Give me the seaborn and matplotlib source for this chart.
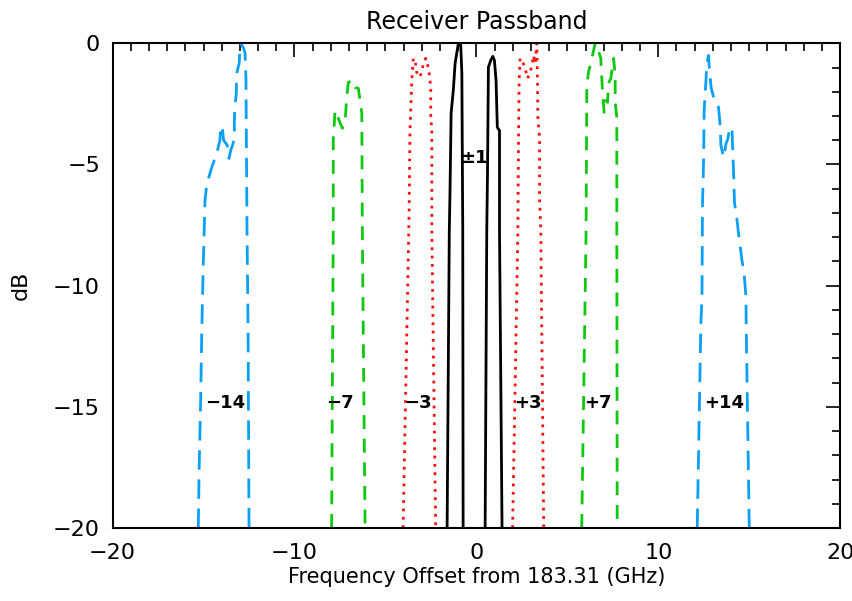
import numpy as np
import pandas as pd
import seaborn as sns
import matplotlib.pyplot as plt
from matplotlib.ticker import MultipleLocator

# passband traces (GHz offset, dB)
m14_x = [-15.29, -15.24, -15.16, -15.10, -15.02, -14.92, -14.85, -14.81, -14.55, -14.28,
         -14.10, -14.05, -13.95, -13.90, -13.70, -13.60, -13.50, -13.40, -13.30, -13.31,
         -13.28, -13.20, -13.18, -13.04, -13.00, -12.96, -12.80, -12.72, -12.67, -12.61,
         -12.55, -12.50]
m14_y = [-20.0, -17.5, -14.75, -11.98, -9.26, -6.49, -6.0, -5.79, -5.12, -4.55,
         -4.0, -3.4, -3.6, -4.0, -4.2, -4.75, -4.4, -4.2, -3.9, -3.3,
         -2.65, -2.07, -1.24, -0.83, -0.17, 0.0, -0.2, -0.4, -1.4, -7.7,
         -12.0, -20.0]

m7_x = [-7.96, -7.87, -7.87, -7.77, -7.59, -7.37, -7.22, -7.13, -7.04, -6.80,
        -6.67, -6.49, -6.40, -6.30, -6.27, -6.12]
m7_y = [-20.0, -7.73, -4.0, -2.77, -3.1, -3.51, -3.26, -2.23, -1.61, -1.53,
        -1.82, -1.86, -2.36, -2.89, -7.73, -20.0]

m3_x = [-4.03, -3.70, -3.65, -3.55, -3.47, -3.37, -3.28, -3.14, -3.00, -2.92,
        -2.78, -2.70, -2.60, -2.51, -2.51, -2.45, -2.45, -2.24]
m3_y = [-20.0, -7.0, -3.6, -1.53, -0.62, -0.7, -1.2, -1.4, -1.2, -0.83,
        -0.62, -0.83, -1.2, -1.82, -3.06, -3.6, -7.73, -20.0]

m1_x = [-1.61, -1.49, -1.45, -1.39, -1.27, -1.17, -1.08, -0.99, -0.86, -0.80,
        -0.75, -0.73]
m1_y = [-20.0, -7.73, -6.07, -2.89, -1.94, -0.83, -0.41, 0.0, -0.08, -1.24,
        -7.73, -20.0]

p1_x = [0.48, 0.57, 0.61, 0.66, 0.79, 0.90, 0.99, 1.08, 1.15, 1.27, 1.27, 1.41]
p1_y = [-20.0, -7.73, -5.37, -0.99, -0.7, -0.54, -0.7, -1.53, -3.47, -3.6, -7.73, -20.0]

p3_x = [1.99, 2.28, 2.31, 2.35, 2.40, 2.55, 2.68, 2.81, 2.95, 3.05,
        3.14, 3.23, 3.32, 3.36, 3.38, 3.47, 3.47, 3.54, 3.70]
p3_y = [-20.0, -7.73, -4.3, -1.53, -0.62, -0.78, -1.03, -1.45, -1.2, -0.91,
        -0.5, -0.83, 0.0, -1.53, -3.06, -3.88, -6.36, -7.73, -20.0]

p7_x = [5.79, 6.03, 6.07, 6.16, 6.35, 6.53, 6.66, 6.73, 6.84, 6.86,
        6.90, 6.93, 7.02, 7.13, 7.21, 7.26, 7.39, 7.54, 7.59, 7.63,
        7.63, 7.72, 7.72, 7.74]
p7_y = [-20.0, -7.73, -1.82, -1.2, -0.62, 0.0, -0.08, -0.37, -0.62, -1.03,
        -1.53, -1.94, -2.85, -2.36, -2.44, -1.65, -1.45, -0.62, -0.99, -1.53,
        -2.44, -3.06, -7.73, -20.0]

p14_x = [12.14, 12.34, 12.40, 12.43, 12.49, 12.52, 12.62, 12.67, 12.76, 12.82,
         12.91, 13.09, 13.31, 13.41, 13.44, 13.59, 13.73, 13.83, 13.92, 14.05,
         14.08, 14.14, 14.19, 14.32, 14.41, 14.51, 14.60, 14.72, 14.82, 14.83,
         15.00]
p14_y = [-20.0, -11.57, -10.5, -6.61, -4.83, -2.77, -1.53, -0.83, -0.5, -1.2,
         -1.86, -2.36, -2.64, -3.47, -4.21, -4.71, -4.13, -3.93, -3.47, -3.51,
         -4.13, -5.37, -6.61, -7.23, -7.85, -8.43, -8.97, -9.5, -10.5, -11.57,
         -20.0]

labels = ["\u221214", "\u22127", "\u22123", "\u00b11", "+3", "+7", "+14"]
label_x = [-13.81, -7.49, -3.2, -0.12, 2.85, 6.7, 13.6]
label_y = [-14.83, -14.83, -14.83, -4.75, -14.83, -14.83, -14.83]

blue, green, red = "#0AA0F5", "#10C810", "#FF1010"
traces = [
    (m14_x, m14_y, blue, (0, (7, 3.5))),
    (p14_x, p14_y, blue, (0, (7, 3.5))),
    (m7_x, m7_y, green, (0, (5, 3.5))),
    (p7_x, p7_y, green, (0, (5, 3.5))),
    (m3_x, m3_y, red, (0, (1, 2))),
    (p3_x, p3_y, red, (0, (1, 2))),
    (m1_x, m1_y, "black", "-"),
    (p1_x, p1_y, "black", "-"),
]

sns.set_style("white")
plt.rcParams['font.family'] = ['DejaVu Sans']
plt.rcParams['text.color'] = 'black'
plt.rcParams['axes.labelcolor'] = 'black'
plt.rcParams['xtick.color'] = 'black'
plt.rcParams['ytick.color'] = 'black'

fig = plt.figure(figsize=(8.53, 6.01), dpi=100)
ax = fig.add_axes([0.132, 0.1215, 0.853, 0.8065])

for xs, ys, col, ls in traces:
    df = pd.DataFrame({"x": xs, "y": ys})
    sns.lineplot(data=df, x="x", y="y", sort=False, estimator=None,
                 color=col, linewidth=2.0, linestyle=ls, ax=ax)

for t, lx, ly in zip(labels, label_x, label_y):
    ax.text(lx, ly, t, ha="center", va="center", fontsize=13, fontweight="bold")

ax.set_xlim(-20, 20)
ax.set_ylim(-20, 0)
ax.xaxis.set_major_locator(MultipleLocator(10))
ax.xaxis.set_minor_locator(MultipleLocator(1))
ax.yaxis.set_major_locator(MultipleLocator(5))
ax.yaxis.set_minor_locator(MultipleLocator(1))
ax.tick_params(which="both", direction="in", top=True, right=True,
               width=1.2, color="black", labelsize=16)
ax.tick_params(which="major", length=10)
ax.tick_params(which="minor", length=6)
ax.tick_params(axis="x", which="both", pad=11)
ax.tick_params(axis="y", which="both", pad=9)
for s in ax.spines.values():
    s.set_color("black")
    s.set_linewidth(1.5)

ax.set_title("Receiver Passband", fontsize=17, pad=10)
ax.set_xlabel("Frequency Offset from 183.31 (GHz)", fontsize=15, labelpad=3)
ax.set_ylabel("dB", fontsize=16, labelpad=16)

fig.savefig("out.png", dpi=100)
